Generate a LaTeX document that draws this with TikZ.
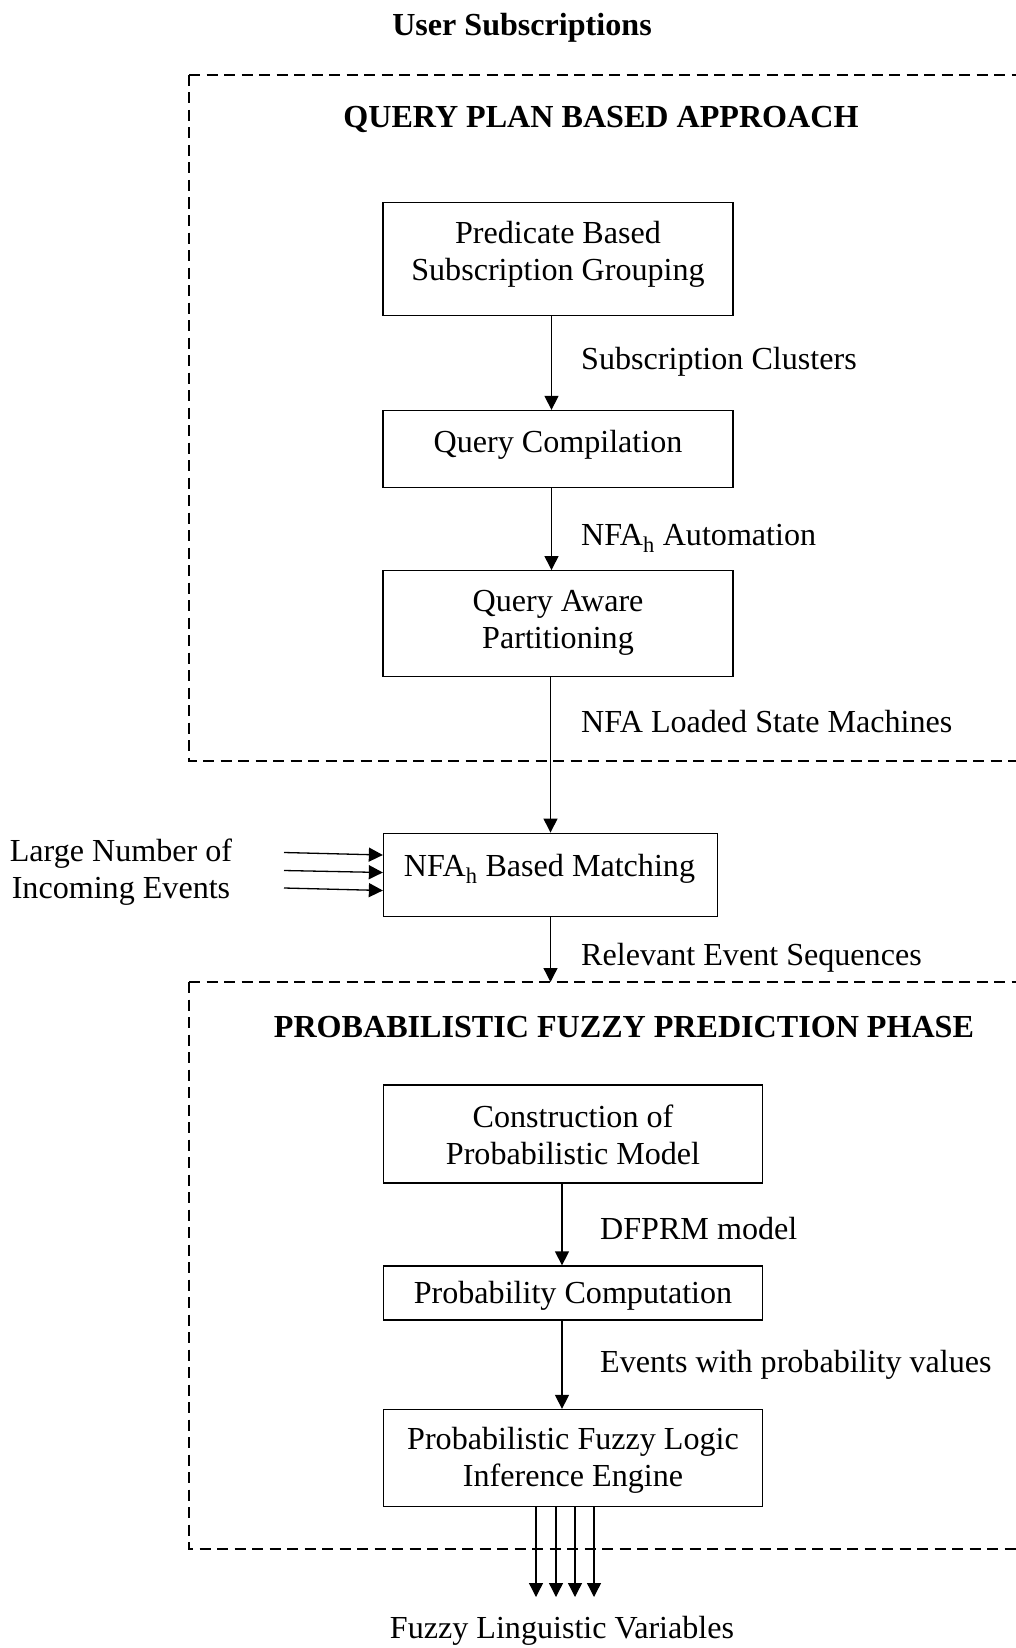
\documentclass[tikz,border=0pt]{standalone}
\usepackage{fontspec}
\setmainfont{Liberation Serif}
\usetikzlibrary{arrows.meta}
\begin{document}
\begin{tikzpicture}[x=1pt,y=-1pt,
  every node/.style={font=\fontsize{32.1}{37}\selectfont},
  box/.style={draw,line width=1.3pt,inner sep=0pt},
  txt/.style={inner sep=0pt,align=center},
  lbl/.style={inner sep=0pt,anchor=west},
  head/.style={inner sep=0pt,font=\fontsize{32.1}{37}\selectfont\bfseries},
  arr/.style={line width=1.3pt,-{Triangle[length=14pt,width=14pt]}},
  frame/.style={line width=2.3pt,dash pattern=on 11pt off 6.5pt}]
\useasboundingbox (0,0) rectangle (1015,1648);

% dashed phase frames, open towards the right edge
\draw[frame] (189,75) -- (1030,75) (189,75) -- (189,761) -- (1030,761);
\draw[frame] (189,982) -- (1030,982) (189,982) -- (189,1549) -- (1030,1549);

% headings
\node[head] (hUser) at (522,28) {User Subscriptions};
\node[head] (hQuery) at (601,119) {QUERY PLAN BASED APPROACH};
\node[head] (hProb) at (624,1027) {PROBABILISTIC FUZZY PREDICTION PHASE};

% process boxes
\node[box,minimum width=350pt,minimum height=113pt] (b1) at (558,259) {};
\node[box,minimum width=350pt,minimum height=77pt] (b2) at (558,449) {};
\node[box,minimum width=350pt,minimum height=106pt] (b3) at (558,623.7) {};
\node[box,minimum width=334pt,minimum height=83pt] (b4) at (550.5,874.7) {};
\node[box,minimum width=379pt,minimum height=98pt] (b5) at (573,1134) {};
\node[box,minimum width=379pt,minimum height=54pt] (b6) at (573,1293) {};
\node[box,minimum width=379pt,minimum height=97pt] (b7) at (573,1458) {};

% box texts
\node[txt] (t1) at (558,254.5) {Predicate Based\\Subscription Grouping};
\node[txt] (t2) at (558,445) {Query Compilation};
\node[txt] (t3) at (558,623) {Query Aware\\Partitioning};
\node[txt] (t4) at (549.5,869) {NFA\textsubscript{h} Based Matching};
\node[txt] (t5) at (573,1135) {Construction of\\Probabilistic Model};
\node[txt] (t6) at (573,1296) {Probability Computation};
\node[txt] (t7) at (573,1460) {Probabilistic Fuzzy Logic\\Inference Engine};

% connector labels
\node[lbl] (l1) at (581,362) {Subscription Clusters};
\node[lbl] (l2) at (581,538) {NFA\textsubscript{h} Automation};
\node[lbl] (l3) at (581,722) {NFA Loaded State Machines};
\node[lbl] (l4) at (581,958) {Relevant Event Sequences};
\node[lbl] (l5) at (600,1229) {DFPRM model};
\node[lbl] (l6) at (600,1365) {Events with probability values};

% inputs and outputs
\node[txt] (inc) at (121,872) {Large Number of\\Incoming Events};
\node[txt] (out) at (562,1631) {Fuzzy Linguistic Variables};

\coordinate (p2top) at (548.5,982);
\coordinate (fz) at (573,1597);
\coordinate (in0) at (284,852.5);
\coordinate (in1) at (284,870.5);
\coordinate (in2) at (284,888);

% connectors
\draw[arr] ([xshift=-6.5pt]b1.south) -- ([xshift=-6.5pt]b2.north);
\draw[arr] ([xshift=-6.5pt]b2.south) -- ([xshift=-6.5pt]b3.north);
\draw[arr] (b3.south -| b4.north) -- (b4.north);
\draw[arr] (b4.south) -- (b4.south |- p2top);
\draw[arr] ([xshift=-11pt]b5.south) -- ([xshift=-11pt]b6.north);
\draw[arr] ([xshift=-11pt]b6.south) -- ([xshift=-11pt]b7.north);

\draw[arr] (in0) -- ([yshift=19.7pt]b4.west);
\draw[arr] (in1) -- ([yshift=2.2pt]b4.west);
\draw[arr] (in2) -- ([yshift=-15.8pt]b4.west);

\foreach \dx in {-37,-17,2,21}
  \draw[arr] ([xshift=\dx pt]b7.south) -- ([xshift=\dx pt]b7.south |- fz);
\end{tikzpicture}
\end{document}
